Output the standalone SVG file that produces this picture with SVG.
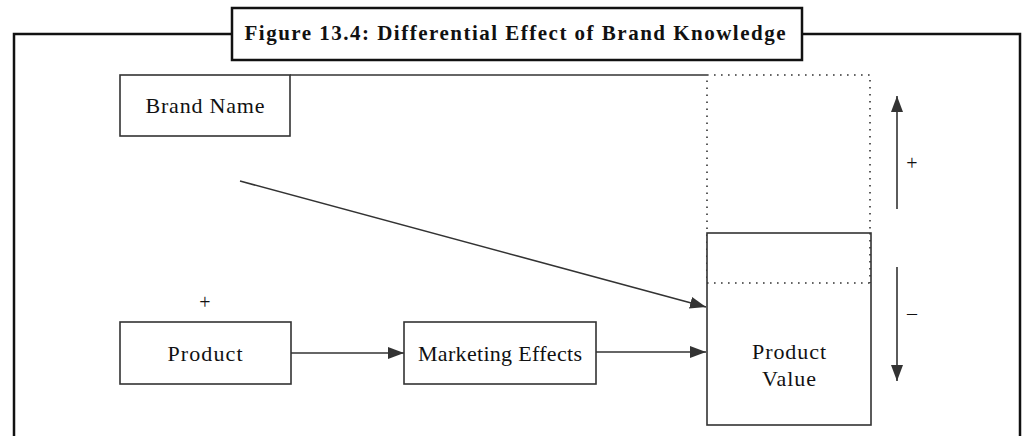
<svg xmlns="http://www.w3.org/2000/svg" width="1031" height="436" viewBox="0 0 1031 436">
<style>
.frame{fill:none;stroke:#111;stroke-width:2.5}
.box{fill:#fff;stroke:#333;stroke-width:1.6}
.dot{fill:none;stroke:#333;stroke-width:1.6;stroke-dasharray:1.6 5.4}
.ln{fill:none;stroke:#333;stroke-width:1.6}
.t{font-family:"Liberation Serif","Times New Roman",serif;font-size:22px;fill:#111;text-anchor:middle}
.title{font-family:"Liberation Serif","Times New Roman",serif;font-size:21px;font-weight:bold;fill:#111;text-anchor:middle}
.s{font-family:"Liberation Serif","Times New Roman",serif;font-size:20px;fill:#111;text-anchor:middle}
</style>
<defs>
<marker id="ah" viewBox="0 0 16 12" refX="16" refY="6" markerWidth="16" markerHeight="12" markerUnits="userSpaceOnUse" orient="auto">
<path d="M0,0 L16,6 L0,12 z" fill="#333"/>
</marker>
</defs>
<rect width="1031" height="436" fill="#fff"/>
<g id="frame">
<path class="frame" d="M14,438 L14,34 L232,34 M802,34 L1020,34 L1020,438"/>
</g>
<g id="title">
<rect class="frame" x="232" y="8" width="570" height="52" fill="#fff"/>
<text class="title" x="515" y="40" textLength="541">Figure 13.4: Differential Effect of Brand Knowledge</text>
</g>
<g id="connectors">
<line class="ln" x1="290" y1="75" x2="707" y2="75"/>
<rect class="dot" x="707" y="75" width="163" height="208"/>
<line class="ln" x1="240" y1="181" x2="706" y2="307" marker-end="url(#ah)"/>
<line class="ln" x1="291" y1="353" x2="404" y2="353" marker-end="url(#ah)"/>
<line class="ln" x1="596" y1="352" x2="706" y2="352" marker-end="url(#ah)"/>
<line class="ln" x1="897" y1="209" x2="897" y2="96" marker-end="url(#ah)"/>
<line class="ln" x1="897" y1="267" x2="897" y2="381" marker-end="url(#ah)"/>
</g>
<g id="brand-name">
<rect class="box" x="120" y="75" width="170" height="61"/>
<text class="t" x="205" y="113" textLength="119">Brand Name</text>
</g>
<g id="product">
<text class="s" x="205" y="309">+</text>
<rect class="box" x="120" y="322" width="171" height="62"/>
<text class="t" x="205" y="361" textLength="75">Product</text>
</g>
<g id="marketing-effects">
<rect class="box" x="404" y="322" width="192" height="62"/>
<text class="t" x="500" y="361" textLength="164">Marketing Effects</text>
</g>
<g id="product-value">
<rect class="box" x="707" y="233" width="164" height="192"/>
<line class="dot" x1="707" y1="283" x2="870" y2="283"/>
<line class="dot" x1="870" y1="233" x2="870" y2="283"/>
<text class="t" x="789" y="359" textLength="74">Product</text>
<text class="t" x="789" y="386" textLength="54">Value</text>
</g>
<g id="signs">
<text class="s" x="912" y="170">+</text>
<text class="s" x="912" y="320">–</text>
</g>
</svg>
